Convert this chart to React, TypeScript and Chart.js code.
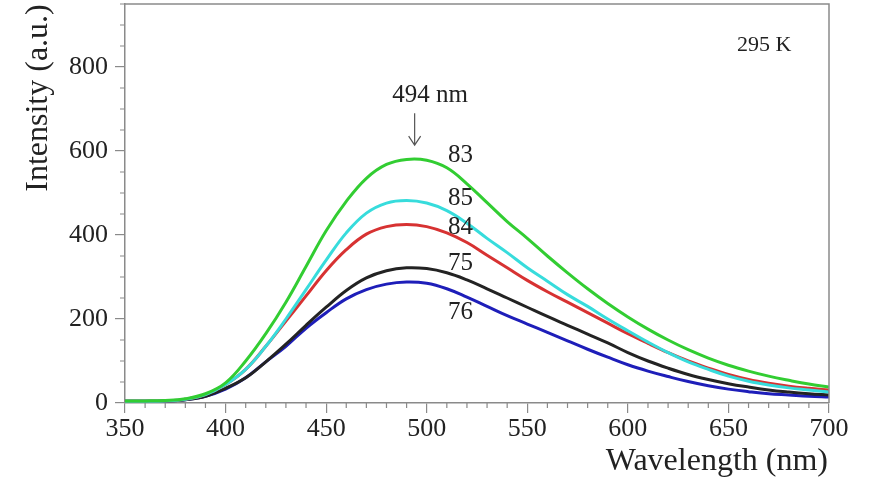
import React, { useEffect, useRef } from "react";
import { Chart, registerables } from "chart.js";

Chart.register(...registerables);

const wavelengths = [350, 360, 370, 380, 390, 400, 410, 420, 430, 440, 450, 460, 470, 480, 490, 500, 510, 520, 530, 540, 550, 560, 570, 580, 590, 600, 610, 620, 630, 640, 650, 660, 670, 680, 690, 700];

const series83 = [5, 5, 6, 10, 22, 48, 100, 165, 240, 325, 410, 480, 535, 568, 580, 578, 560, 522, 477, 432, 392, 350, 310, 272, 237, 205, 176, 150, 127, 107, 90, 76, 64, 54, 45, 38];
const series85 = [4, 4, 5, 9, 20, 44, 80, 135, 200, 270, 340, 405, 452, 476, 482, 476, 458, 428, 392, 358, 322, 290, 258, 230, 200, 172, 145, 120, 98, 80, 64, 52, 43, 36, 31, 26];
const series84 = [4, 4, 5, 9, 20, 44, 80, 135, 195, 255, 315, 365, 402, 420, 425, 420, 405, 382, 352, 322, 292, 265, 240, 215, 190, 165, 142, 120, 100, 83, 68, 56, 47, 40, 35, 31];
const series75 = [4, 4, 5, 8, 16, 35, 60, 98, 140, 185, 228, 268, 298, 315, 322, 320, 310, 293, 272, 250, 228, 206, 185, 164, 143, 120, 100, 83, 68, 56, 46, 38, 31, 26, 22, 19];
const series76 = [4, 4, 5, 8, 16, 33, 60, 98, 135, 178, 215, 248, 270, 283, 288, 285, 272, 252, 230, 208, 188, 168, 148, 128, 109, 91, 76, 63, 51, 41, 33, 27, 22, 19, 16, 14];

const seriesNames = ["83", "85", "84", "75", "76"];
const seriesValues = [series83, series85, series84, series75, series76];
const seriesColors = ["rgb(50,205,50)", "rgb(55,220,220)", "rgb(215,50,50)", "rgb(35,35,35)", "rgb(30,30,185)"];
// label anchors in data coordinates [wavelength, intensity]
const labelAnchors: [number, number][] = [[510.6, 574], [510.6, 471], [510.6, 402], [510.6, 317], [510.6, 200]];

const xTickValues = [350, 400, 450, 500, 550, 600, 650, 700];
const yTickValues = [0, 200, 400, 600, 800];

const SERIF = '"Liberation Serif", "Times New Roman", serif';

const decor = {
  id: "decor",
  afterDraw(chart: any) {
    const { ctx, chartArea, scales } = chart;
    const xs = scales.x;
    const ys = scales.y;
    ctx.save();
    // frame top/right
    ctx.strokeStyle = "#8a8a8a";
    ctx.lineWidth = 1.5;
    ctx.beginPath();
    ctx.moveTo(chartArea.left, chartArea.top);
    ctx.lineTo(chartArea.right, chartArea.top);
    ctx.lineTo(chartArea.right, chartArea.bottom);
    ctx.stroke();
    // minor ticks
    ctx.lineWidth = 1.2;
    ctx.beginPath();
    for (let v = 350; v <= 700; v += 10) {
      if (v % 50 === 0) continue;
      const px = xs.getPixelForValue(v);
      ctx.moveTo(px, chartArea.bottom);
      ctx.lineTo(px, chartArea.bottom + 5);
    }
    for (let v = 50; v <= 950; v += 50) {
      if (v % 200 === 0) continue;
      const py = ys.getPixelForValue(v);
      ctx.moveTo(chartArea.left - 5, py);
      ctx.lineTo(chartArea.left, py);
    }
    ctx.stroke();

    ctx.fillStyle = "#222";
    // axis titles
    ctx.font = `32px ${SERIF}`;
    ctx.textBaseline = "alphabetic";
    ctx.textAlign = "right";
    ctx.fillText("Wavelength (nm)", chartArea.right - 1, 470);
    ctx.save();
    ctx.translate(47, 98);
    ctx.rotate(-Math.PI / 2);
    ctx.textAlign = "center";
    ctx.fillText("Intensity (a.u.)", 0, 0);
    ctx.restore();

    // series labels
    ctx.font = `25px ${SERIF}`;
    ctx.textAlign = "left";
    seriesNames.forEach((n, i) => {
      const [wx, wy] = labelAnchors[i];
      ctx.fillText(n, xs.getPixelForValue(wx), ys.getPixelForValue(wy));
    });

    // peak annotation
    ctx.textAlign = "center";
    ctx.fillText("494 nm", xs.getPixelForValue(501.7), ys.getPixelForValue(717));
    const ax = xs.getPixelForValue(494);
    const ay1 = ys.getPixelForValue(690);
    const ay2 = ys.getPixelForValue(614);
    ctx.strokeStyle = "#555";
    ctx.lineWidth = 1.2;
    ctx.beginPath();
    ctx.moveTo(ax, ay1);
    ctx.lineTo(ax, ay2);
    ctx.moveTo(ax - 6, ay2 - 9);
    ctx.lineTo(ax, ay2);
    ctx.lineTo(ax + 6, ay2 - 9);
    ctx.stroke();

    // temperature
    ctx.font = `22px ${SERIF}`;
    ctx.textAlign = "left";
    ctx.fillText("295 K", xs.getPixelForValue(654.3), ys.getPixelForValue(838));
    ctx.restore();
  },
};

export default function App() {
  const ref = useRef<HTMLCanvasElement | null>(null);
  useEffect(() => {
    document.body.style.margin = "0";
    const canvas = ref.current;
    if (!canvas) return;
    const chart = new Chart(canvas, {
      type: "line",
      data: {
        datasets: seriesNames.map((n, i) => ({
          label: n,
          data: wavelengths.map((w, j) => ({ x: w, y: seriesValues[i][j] })),
          borderColor: seriesColors[i],
          borderWidth: 3,
          pointRadius: 0,
          tension: 0.4,
          fill: false,
        })),
      },
      options: {
        responsive: false,
        animation: false,
        maintainAspectRatio: false,
        layout: { padding: { top: 4, right: 47, left: 0, bottom: 0 } },
        plugins: { legend: { display: false }, tooltip: { enabled: false } },
        scales: {
          x: {
            type: "linear",
            min: 350,
            max: 700,
            afterFit: (s: any) => { s.height = 76; s.paddingLeft = 0; s.paddingRight = 0; },
            afterBuildTicks: (s: any) => { s.ticks = xTickValues.map((v) => ({ value: v })); },
            ticks: { color: "#222", font: { family: SERIF, size: 26 }, padding: 1, maxRotation: 0, autoSkip: false },
            grid: { display: true, drawOnChartArea: false, drawTicks: true, tickLength: 10, color: "#8a8a8a", lineWidth: 1.2 },
            border: { display: true, color: "#8a8a8a", width: 1.5 },
          },
          y: {
            type: "linear",
            min: 0,
            max: 950,
            afterFit: (s: any) => { s.width = 125; s.paddingTop = 0; s.paddingBottom = 0; },
            afterBuildTicks: (s: any) => { s.ticks = yTickValues.map((v) => ({ value: v })); },
            ticks: { color: "#222", font: { family: SERIF, size: 26 }, padding: 7, autoSkip: false },
            grid: { display: true, drawOnChartArea: false, drawTicks: true, tickLength: 10, color: "#8a8a8a", lineWidth: 1.2 },
            border: { display: true, color: "#8a8a8a", width: 1.5 },
          },
        },
      },
      plugins: [decor],
    });
    return () => chart.destroy();
  }, []);
  return (
    <div style={{ width: 876, height: 479, background: "#fff" }}>
      <canvas ref={ref} width={876} height={479} style={{ width: 876, height: 479, display: "block" }} />
    </div>
  );
}
